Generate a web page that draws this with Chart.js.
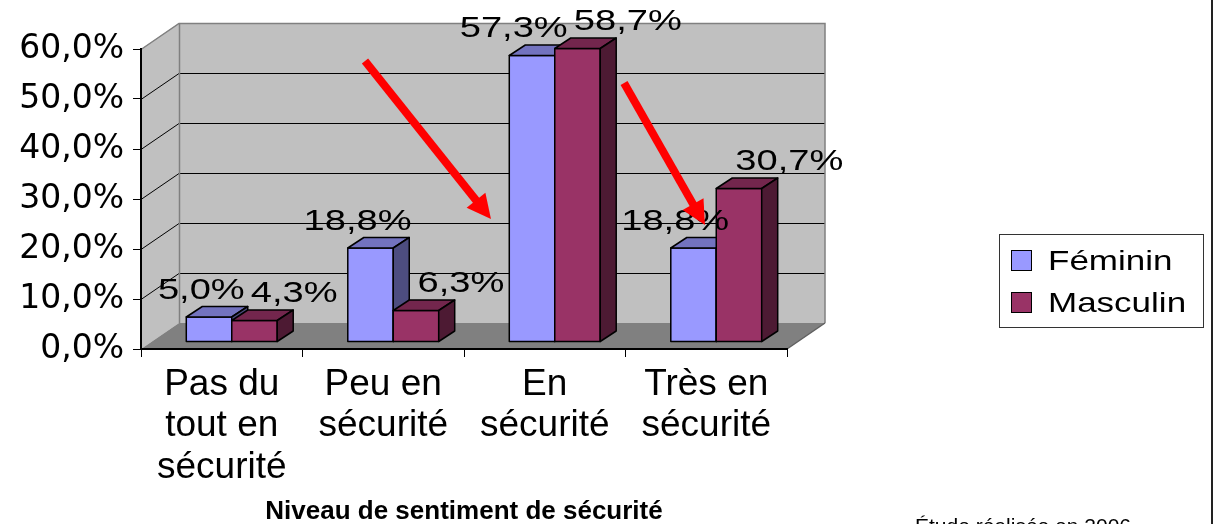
<!DOCTYPE html>
<html><head><meta charset="utf-8">
<script src="https://cdn.jsdelivr.net/npm/chart.js@4.4.1/dist/chart.umd.min.js"></script>
<style>html,body{margin:0;padding:0;background:#fff;overflow:hidden}canvas{display:block}</style>
</head><body>
<canvas id="c" width="1213" height="524"></canvas>
<script>
// ---- data ----
const categories = [["Pas du", "tout en", "sécurité"], ["Peu en", "sécurité"], ["En", "sécurité"], ["Très en", "sécurité"]];
const seriesNames = ["Féminin", "Masculin"];
const feminin = [5.0, 18.8, 57.3, 18.8];
const masculin = [4.3, 6.3, 58.7, 30.7];
const yMin = 0, yMax = 60, yStep = 10;
const axisTitle = "Niveau de sentiment de sécurité";
const note = "Étude réalisée en 2006";
// arrows in data coordinates: [category index, value %]
const arrowFrom = [[0.887, 57.6], [2.491, 53.2]];
const arrowTo = [[1.667, 26.0], [2.992, 24.8]];

// ---- styles ----
const frontColors = ['#9999FF', '#993366'];
const topColors = ['#7373BF', '#73264D'];
const sideColors = ['#4D4D80', '#4D1A33'];
const WALL_DX = 38, WALL_DY = 26;      // depth of the 3D box
const BAR_OX = 10, BAR_OY = 7;         // bar front plane offset
const BAR_DX = 16, BAR_DY = 10.5;      // bar depth
const fmt = v => v.toFixed(1).replace('.', ',') + '%';

function poly(ctx, pts, fill, stroke, lw) {
  ctx.beginPath();
  ctx.moveTo(pts[0][0], pts[0][1]);
  for (let i = 1; i < pts.length; i++) ctx.lineTo(pts[i][0], pts[i][1]);
  ctx.closePath();
  if (fill) { ctx.fillStyle = fill; ctx.fill(); }
  if (stroke) { ctx.strokeStyle = stroke; ctx.lineWidth = lw || 1; ctx.stroke(); }
}
function line(ctx, pts, color, lw) {
  ctx.beginPath();
  ctx.moveTo(pts[0][0], pts[0][1]);
  for (let i = 1; i < pts.length; i++) ctx.lineTo(pts[i][0], pts[i][1]);
  ctx.strokeStyle = color; ctx.lineWidth = lw || 1; ctx.stroke();
}
function stretchedText(ctx, text, x, y, size, sx, align) {
  ctx.save();
  ctx.font = size + 'px "Liberation Sans", Arial, sans-serif';
  ctx.textAlign = align || 'center';
  ctx.textBaseline = 'alphabetic';
  ctx.fillStyle = '#000';
  ctx.translate(x, y);
  ctx.scale(sx, 1);
  ctx.fillText(text, 0, 0);
  ctx.restore();
}

const threeD = {
  id: 'threeD',
  beforeDraw(chart) {
    const ctx = chart.ctx;
    const {left: L, right: R, top: T, bottom: B} = chart.chartArea;
    const ys = chart.scales.y;
    ctx.save();
    ctx.fillStyle = '#fff';
    ctx.fillRect(0, 0, chart.width, chart.height);
    poly(ctx, [[L + WALL_DX, T - WALL_DY], [R + WALL_DX, T - WALL_DY], [R + WALL_DX, B - WALL_DY], [L + WALL_DX, B - WALL_DY]], '#C0C0C0');
    poly(ctx, [[L, T], [L + WALL_DX, T - WALL_DY], [L + WALL_DX, B - WALL_DY], [L, B]], '#C0C0C0');
    poly(ctx, [[L, B], [R, B], [R + WALL_DX, B - WALL_DY], [L + WALL_DX, B - WALL_DY]], '#808080');
    for (let v = yMin + yStep; v < yMax; v += yStep) {
      const py = Math.round(ys.getPixelForValue(v)) + 0.5;
      line(ctx, [[L, py], [L + WALL_DX, py - WALL_DY], [R + WALL_DX, py - WALL_DY]], '#000', 1);
    }
    const pt = Math.round(ys.getPixelForValue(yMax)) + 0.5;
    line(ctx, [[L, pt], [L + WALL_DX, pt - WALL_DY], [R + WALL_DX, pt - WALL_DY], [R + WALL_DX, B - WALL_DY]], '#808080', 1.5);
    line(ctx, [[L + WALL_DX + 0.5, pt - WALL_DY], [L + WALL_DX + 0.5, B - WALL_DY]], '#808080', 1.5);
    line(ctx, [[R, B], [R + WALL_DX, B - WALL_DY]], '#606060', 1.5);
    ctx.restore();
  },
  beforeDatasetDraw() { return false; },
  afterDatasetsDraw(chart) {
    const ctx = chart.ctx;
    const metas = chart.data.datasets.map((d, i) => chart.getDatasetMeta(i));
    const n = chart.data.labels.length;
    ctx.save();
    ctx.lineJoin = 'round';
    const geo = [];
    for (let c = 0; c < n; c++) {
      geo[c] = [];
      for (let d = 0; d < metas.length; d++) {
        const el = metas[d].data[c];
        const p = el.getProps(['x', 'y', 'base', 'width'], true);
        const l = p.x - p.width / 2 + BAR_OX, r = p.x + p.width / 2 + BAR_OX;
        const t = p.y - BAR_OY, b = p.base - BAR_OY;
        geo[c][d] = {l, r, t, b};
        poly(ctx, [[l, t], [r, t], [r, b], [l, b]], frontColors[d], '#000', 1.5);
        poly(ctx, [[l, t], [l + BAR_DX, t - BAR_DY], [r + BAR_DX, t - BAR_DY], [r, t]], topColors[d], '#000', 1.5);
        poly(ctx, [[r, t], [r + BAR_DX, t - BAR_DY], [r + BAR_DX, b - BAR_DY], [r, b]], sideColors[d], '#000', 1.5);
      }
    }
    // data labels (pushed apart when overlapping)
    const LS = 30, SX = 1.27, GAP = 6;
    ctx.font = LS + 'px "Liberation Sans", Arial, sans-serif';
    for (let c = 0; c < n; c++) {
      const labs = geo[c].map((g, d) => {
        const v = chart.data.datasets[d].data[c];
        const text = fmt(v);
        const w = ctx.measureText(text).width * SX;
        return {text, w, cx: (g.l + g.r) / 2 + BAR_DX, y: g.t - BAR_DY - 8};
      });
      const a = labs[0], bb = labs[1];
      const overlap = (a.cx + a.w / 2) - (bb.cx - bb.w / 2) + GAP;
      if (overlap > 0) { a.cx -= overlap / 2; bb.cx += overlap / 2; }
      labs.forEach(lb => stretchedText(ctx, lb.text, lb.cx, lb.y, LS, SX, 'center'));
    }
    // red arrows
    const xs = chart.scales.x, ys = chart.scales.y;
    for (let i = 0; i < arrowFrom.length; i++) {
      const x0 = xs.getPixelForValue(arrowFrom[i][0]), y0 = ys.getPixelForValue(arrowFrom[i][1]);
      const x1 = xs.getPixelForValue(arrowTo[i][0]), y1 = ys.getPixelForValue(arrowTo[i][1]);
      const len = Math.hypot(x1 - x0, y1 - y0), ux = (x1 - x0) / len, uy = (y1 - y0) / len;
      const HL = 24, HW = 12;
      const bx = x1 - ux * HL, by = y1 - uy * HL;
      ctx.lineCap = 'butt';
      line(ctx, [[x0, y0], [bx + ux * 2, by + uy * 2]], '#FF0000', 8);
      poly(ctx, [[x1, y1], [bx - uy * HW, by + ux * HW], [bx + uy * HW, by - ux * HW]], '#FF0000');
    }
    ctx.restore();
  },
  afterDraw(chart) {
    const ctx = chart.ctx;
    ctx.save();
    const LX = chart.width - 214, LY = 234, LW = 204, LH = 93;
    ctx.strokeStyle = '#333'; ctx.lineWidth = 1;
    ctx.strokeRect(LX + 0.5, LY + 0.5, LW, LH);
    chart.data.datasets.forEach((ds, i) => {
      const cy = LY + 26 + i * 42;
      ctx.fillStyle = ds.backgroundColor;
      ctx.fillRect(LX + 12.5, cy - 9.5, 20, 20);
      ctx.strokeStyle = '#000'; ctx.lineWidth = 1;
      ctx.strokeRect(LX + 12.5, cy - 9.5, 20, 20);
      stretchedText(ctx, ds.label, LX + 49, cy + 10, 28, 1.25, 'left');
    });
    ctx.font = '21px "Liberation Sans", Arial, sans-serif';
    ctx.fillStyle = '#000'; ctx.textAlign = 'left'; ctx.textBaseline = 'alphabetic';
    ctx.fillText(note, 915, 533);
    ctx.fillStyle = '#222';
    ctx.fillRect(chart.width - 2, 0, 2, chart.height);
    ctx.restore();
  }
};

new Chart(document.getElementById('c'), {
  type: 'bar',
  data: {
    labels: categories,
    datasets: [
      {label: seriesNames[0], data: feminin, backgroundColor: frontColors[0], borderColor: '#000', borderWidth: 1},
      {label: seriesNames[1], data: masculin, backgroundColor: frontColors[1], borderColor: '#000', borderWidth: 1}
    ]
  },
  options: {
    responsive: false,
    animation: false,
    devicePixelRatio: 1,
    layout: {padding: {top: 49, right: 426, bottom: 0, left: 0}},
    datasets: {bar: {categoryPercentage: 0.563, barPercentage: 1}},
    plugins: {legend: {display: false}, tooltip: {enabled: false}},
    scales: {
      x: {
        grid: {display: true, drawOnChartArea: false, drawTicks: true, tickLength: 8, color: '#000', offset: true},
        border: {display: true, color: '#000', width: 2},
        ticks: {color: '#000', padding: 7, maxRotation: 0, autoSkip: false,
                font: {family: '"Liberation Sans", Arial, sans-serif', size: 37, lineHeight: 1.12}},
        title: {display: true, text: axisTitle, color: '#000', padding: {top: 0, bottom: 0},
                font: {family: '"Liberation Sans", Arial, sans-serif', size: 26, weight: 'bold', lineHeight: 0.923}},
        afterFit(s) { s.height = 175; }
      },
      y: {
        min: yMin, max: yMax,
        grid: {display: true, drawOnChartArea: false, drawTicks: true, tickLength: 8, color: '#000'},
        border: {display: true, color: '#000', width: 2},
        ticks: {stepSize: yStep, color: '#000', padding: 9, callback: v => fmt(v),
                font: {family: '"DejaVu Sans", sans-serif', size: 33}},
        afterFit(s) { s.width = 141; }
      }
    }
  },
  plugins: [threeD]
});
</script>
</body></html>
